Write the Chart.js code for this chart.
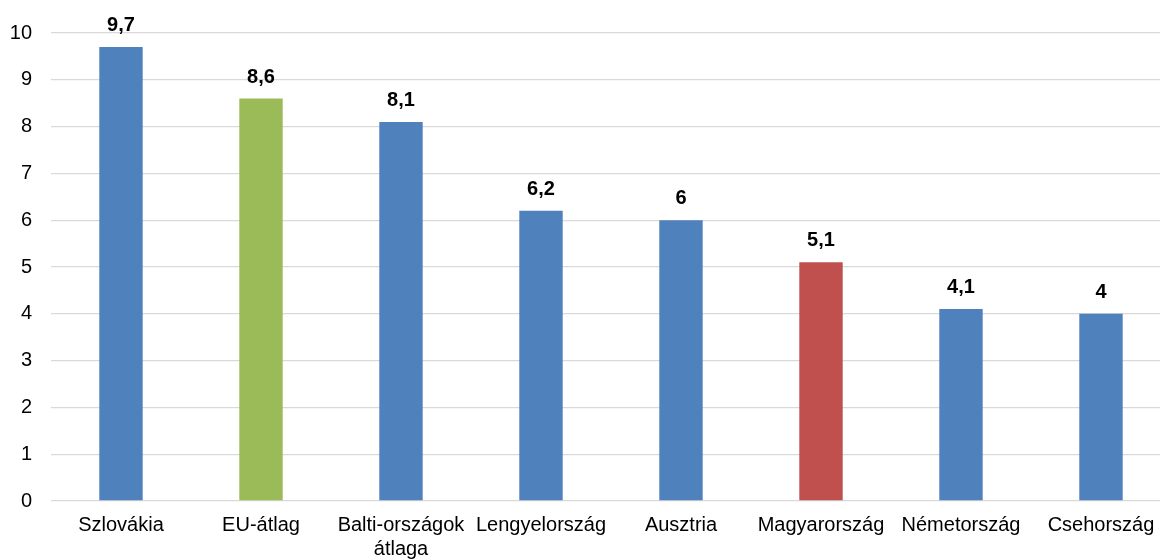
<!DOCTYPE html>
<html>
<head>
<meta charset="utf-8">
<script src="https://cdn.jsdelivr.net/npm/chart.js@4"></script>
<style>
  html, body { margin: 0; padding: 0; background: #fff; overflow: hidden; }
  #wrap { width: 1171px; height: 560px; position: relative; }
</style>
</head>
<body>
<div id="wrap"><canvas id="chart"></canvas></div>
<script>
const categories = [
  'Szlovákia',
  'EU-átlag',
  ['Balti-országok', 'átlaga'],
  'Lengyelország',
  'Ausztria',
  'Magyarország',
  'Németország',
  'Csehország'
];
const values = [9.7, 8.6, 8.1, 6.2, 6, 5.1, 4.1, 4];
const yTicks = [0, 1, 2, 3, 4, 5, 6, 7, 8, 9, 10];

// default bar colour, with the EU average and Hungary picked out
const BLUE = '#4F81BD';
const special = { 'EU-átlag': '#9BBB59', 'Magyarország': '#C0504D' };
const colors = categories.map(c => special[Array.isArray(c) ? c.join(' ') : c] || BLUE);

const FONT = "'Liberation Sans', Arial, sans-serif";

// value labels above each bar, decimal comma
const valueLabels = {
  id: 'valueLabels',
  afterDatasetsDraw(chart) {
    const ctx = chart.ctx;
    const meta = chart.getDatasetMeta(0);
    ctx.save();
    ctx.font = 'bold 20px ' + FONT;
    ctx.fillStyle = '#000';
    ctx.textAlign = 'center';
    ctx.textBaseline = 'alphabetic';
    meta.data.forEach((bar, i) => {
      const txt = String(values[i]).replace('.', ',');
      ctx.fillText(txt, bar.x, bar.y - 16);
    });
    ctx.restore();
  }
};

new Chart(document.getElementById('chart'), {
  type: 'bar',
  data: {
    labels: categories,
    datasets: [{
      data: values,
      backgroundColor: colors,
      borderWidth: 0,
      categoryPercentage: 1,
      barPercentage: 0.31
    }]
  },
  options: {
    responsive: true,
    maintainAspectRatio: false,
    animation: false,
    layout: { padding: { top: 33, left: 0, right: 0, bottom: 0 } },
    plugins: {
      legend: { display: false },
      tooltip: { enabled: false }
    },
    scales: {
      x: {
        grid: { display: false, drawTicks: false },
        border: { display: false },
        ticks: {
          color: '#000',
          padding: 12,
          maxRotation: 0,
          autoSkip: false,
          font: { family: FONT, size: 20 }
        },
        afterFit(scale) {
          scale.height = 59;
          scale.paddingLeft = 0;
          scale.paddingRight = 0;
        }
      },
      y: {
        min: 0,
        max: 10,
        afterBuildTicks(scale) { scale.ticks = yTicks.map(v => ({ value: v })); },
        grid: { color: '#d9d9d9', lineWidth: 1.3, drawTicks: false },
        border: { display: false },
        ticks: {
          color: '#000',
          padding: 19,
          font: { family: FONT, size: 20 }
        },
        afterFit(scale) { scale.width = 51; }
      }
    }
  },
  plugins: [valueLabels]
});
</script>
</body>
</html>
